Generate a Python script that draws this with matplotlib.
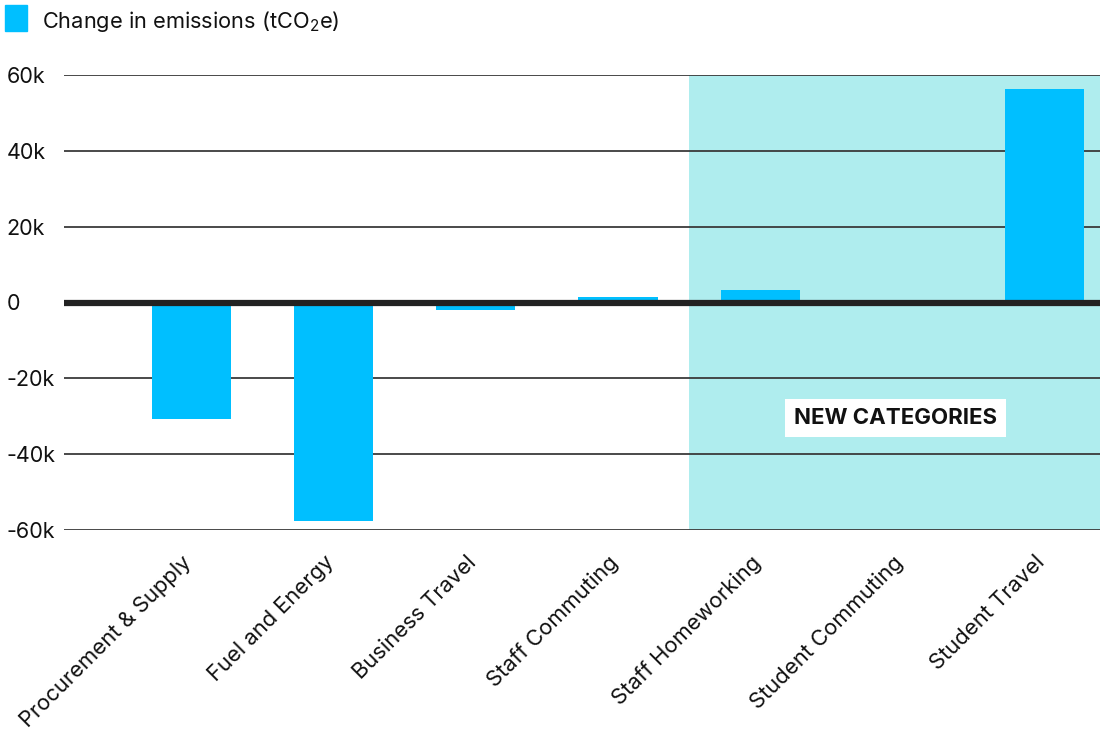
import matplotlib
matplotlib.use("Agg")
import matplotlib.pyplot as plt
from matplotlib.patches import Rectangle
from matplotlib.transforms import ScaledTranslation

categories = ["Procurement & Supply", "Fuel and Energy", "Business Travel",
              "Staff Commuting", "Staff Homeworking", "Student Commuting",
              "Student Travel"]
change_tco2e = [-30800, -57600, -1900, 1400, 3300, 0, 56300]
y_ticks = [-60000, -40000, -20000, 0, 20000, 40000, 60000]
y_labels = ["-60k", "-40k", "-20k", "0", "20k", "40k", "60k"]
new_category_start = 4  # index of first new category

plt.rcParams["font.family"] = ["Inter", "DejaVu Sans"]
plt.rcParams["mathtext.fontset"] = "custom"
plt.rcParams["mathtext.rm"] = "Inter"

BAR = "#00BFFF"
SHADE = "#AFEDEE"

fig = plt.figure(figsize=(11.02, 7.36), dpi=100)
ax = fig.add_axes([63.5 / 1102, 1 - 530 / 736, (1100 - 63.5) / 1102, 455 / 736])

x = list(range(len(categories)))
ax.set_xlim(-0.9, 6.39)
ax.set_ylim(-60000, 60000)

# shaded band for the newly added categories
ax.axvspan(new_category_start - 0.5, 6.39, color=SHADE, zorder=0, lw=0)

for t in y_ticks:
    if t != 0:
        ax.axhline(t, color="#3a3a3a", lw=1.3, zorder=1)

ax.bar(x, change_tco2e, width=0.556, color=BAR, zorder=2)
ax.axhline(0, color="#222222", lw=4.5, zorder=3)

for s in ax.spines.values():
    s.set_visible(False)

ax.set_yticks(y_ticks)
ax.set_yticklabels(y_labels, fontsize=15.5, color="#111111", ha="left")
ax.tick_params(axis="y", length=0, pad=41)

ax.set_xticks(x)
ax.set_xticklabels(categories, rotation=45, ha="right", va="top",
                   rotation_mode="anchor", fontsize=15.8, color="#111111")
ax.tick_params(axis="x", length=0, pad=16)
shift = ScaledTranslation(-7 / 72, 0, fig.dpi_scale_trans)
for lab in ax.get_xticklabels():
    lab.set_transform(lab.get_transform() + shift)

ax.text(4.95, -30500, "NEW CATEGORIES", ha="center", va="center",
        fontsize=16, fontweight="bold", color="#111111", zorder=4,
        bbox=dict(facecolor="white", edgecolor="none", pad=6.5))

# legend
fig.patches.append(Rectangle((5 / 1102, 1 - 31 / 736), 22 / 1102, 26 / 736,
                             transform=fig.transFigure, color=BAR))
fig.text(42 / 1102, 1 - 22 / 736, r"Change in emissions (tCO$_2$e)",
         fontsize=15.7, va="center", ha="left", color="#111111")

fig.savefig("out.png", dpi=100)
